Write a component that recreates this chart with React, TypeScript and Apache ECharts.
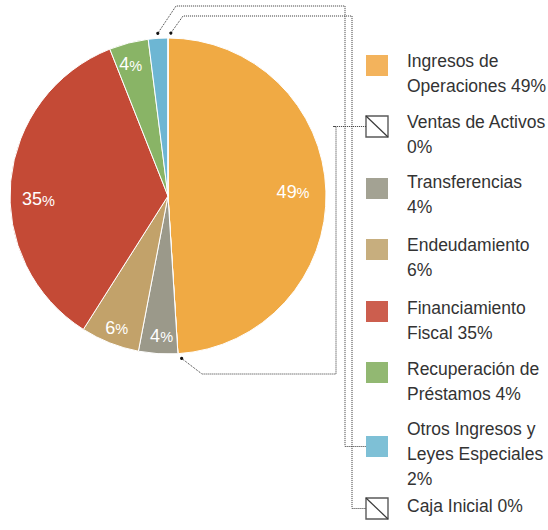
import React, { useEffect, useRef } from "react";
import * as echarts from "echarts";

// ---- data ----
const categories = [
  "Ingresos de Operaciones",
  "Ventas de Activos",
  "Transferencias",
  "Endeudamiento",
  "Financiamiento Fiscal",
  "Recuperación de Préstamos",
  "Otros Ingresos y Leyes Especiales",
  "Caja Inicial",
];
const values = [49, 0, 4, 6, 35, 4, 2, 0];
const legendLines = [
  ["Ingresos de", "Operaciones {v}%"],
  ["Ventas de Activos", "{v}%"],
  ["Transferencias", "{v}%"],
  ["Endeudamiento", "{v}%"],
  ["Financiamiento", "Fiscal {v}%"],
  ["Recuperación de", "Préstamos {v}%"],
  ["Otros Ingresos y", "Leyes Especiales", "{v}%"],
  ["Caja Inicial {v}%"],
];

// ---- styles / layout ----
const sliceColors = ["#F0AA44", "#FFFFFF", "#9B998A", "#C2A26A", "#C44A36", "#89B466", "#6DB6D3", "#FFFFFF"];
const legendColors = ["#F3B35C", "#FFFFFF", "#A3A293", "#C7AE7E", "#CC5E4E", "#92B872", "#7EC0D6", "#FFFFFF"];
const legendIconTop = [55, 116, 178, 239, 301, 362, 436, 498];
const legendCapTop = [54, 115, 175, 238, 301, 362, 422, 499];
const labelNudge = [[-9, 0], [0, 0], [2, 6], [-2, 7], [4, 16], [-4, -2], [0, 0], [0, 0]];

const CX = 168;
const CY = 196;
const R = 158;
const ICON_X = 366;
const ICON_W = 22;
const ICON_H = 21;
const TEXT_X = 407;
const LINE_H = 25;
const FONT = "Liberation Sans, Arial, sans-serif";

function polar(angleDeg: number, r: number): [number, number] {
  const a = (angleDeg * Math.PI) / 180;
  return [CX + r * Math.sin(a), CY - r * Math.cos(a)];
}

export default function App() {
  const ref = useRef<HTMLDivElement>(null);

  useEffect(() => {
    if (!ref.current) return;
    const chart = echarts.init(ref.current, null, { renderer: "svg" });

    const total = values.reduce((a, b) => a + b, 0);
    const starts: number[] = [];
    let acc = 0;
    values.forEach((v) => {
      starts.push((acc / total) * 360);
      acc += v;
    });
    const mid = (i: number) => starts[i] + ((values[i] / total) * 360) / 2;

    const iconCenter = (i: number) => legendIconTop[i] + ICON_H / 2;

    const graphics: any[] = [];

    // legend
    categories.forEach((_, i) => {
      const y = legendIconTop[i];
      if (values[i] === 0) {
        graphics.push({
          type: "rect",
          shape: { x: ICON_X, y, width: ICON_W, height: ICON_H },
          style: { fill: "#fff", stroke: "#5a5a5a", lineWidth: 1.4 },
        });
        graphics.push({
          type: "line",
          shape: { x1: ICON_X, y1: y, x2: ICON_X + ICON_W, y2: y + ICON_H },
          style: { stroke: "#3a3a3a", lineWidth: 1.2 },
        });
      } else {
        graphics.push({
          type: "rect",
          shape: { x: ICON_X, y, width: ICON_W, height: ICON_H },
          style: { fill: legendColors[i] },
        });
      }
      const text = legendLines[i].map((l) => l.replace("{v}", String(values[i]))).join("\n");
      graphics.push({
        type: "text",
        x: TEXT_X,
        y: legendCapTop[i] + 6.5 - LINE_H / 2,
        style: {
          text,
          fontSize: 17.5,
          fontFamily: FONT,
          fill: "#333",
          lineHeight: LINE_H,
          align: "left",
          verticalAlign: "top",
        },
      });
    });

    // connectors
    const dotStyle = { fill: "#111" };
    const lineStyle = { stroke: "#333", lineWidth: 1, lineDash: [1, 1], fill: null };
    const iVentas = 1;
    const iOtros = 6;
    const iCaja = 7;

    const pOtros = polar(mid(iOtros), R + 5);
    const pCaja = polar(starts[iCaja] + 1, R + 5);
    const pVentas = polar(starts[iVentas] - 1.2, R + 5);

    const conns = [
      [pOtros, [176, 6], [345, 6], [345, iconCenter(iOtros)], [ICON_X, iconCenter(iOtros)]],
      [pCaja, [183, 16], [352, 16], [352, iconCenter(iCaja)], [ICON_X, iconCenter(iCaja)]],
      [pVentas, [202, 374], [336, 374], [336, iconCenter(iVentas)], [333, iconCenter(iVentas)], [ICON_X, iconCenter(iVentas)]],
    ];
    conns.forEach((pts) => {
      graphics.push({ type: "polyline", shape: { points: pts }, style: lineStyle });
      graphics.push({ type: "circle", shape: { cx: pts[0][0], cy: pts[0][1], r: 1.6 }, style: dotStyle });
    });

    const data = categories.map((name, i) => ({
      name,
      value: values[i],
      itemStyle: { color: sliceColors[i] },
    }));

    chart.setOption({
      animation: false,
      series: [
        {
          type: "pie",
          center: [CX, CY],
          radius: [0, R],
          startAngle: 90,
          clockwise: true,
          silent: true,
          avoidLabelOverlap: false,
          label: { show: false },
          labelLine: { show: false },
          itemStyle: { borderColor: "#fff", borderWidth: 1 },
          emphasis: { disabled: true },
          data,
        },
        {
          type: "pie",
          center: [CX, CY],
          radius: [R * 0.66, R],
          startAngle: 90,
          clockwise: true,
          silent: true,
          avoidLabelOverlap: false,
          itemStyle: { color: "rgba(0,0,0,0)", borderWidth: 0 },
          emphasis: { disabled: true },
          labelLine: { show: false },
          label: {
            show: true,
            position: "inside",
            color: "#fff",
            fontFamily: FONT,
            formatter: (p: any) => (p.value >= 3 ? `{n|${p.value}}{p|%}` : ""),
            rich: {
              n: { fontSize: 18, color: "#fff", fontFamily: FONT },
              p: { fontSize: 14.5, color: "#fff", fontFamily: FONT, padding: [3, 0, 0, 0] },
            },
          },
          labelLayout: (params: any) => {
            const n = labelNudge[params.dataIndex] || [0, 0];
            return { dx: n[0], dy: n[1] };
          },
          data: categories.map((name, i) => ({ name, value: values[i] })),
        },
      ],
      graphic: graphics,
    });

    return () => chart.dispose();
  }, []);

  return (
    <div
      ref={ref}
      style={{ position: "absolute", left: 0, top: 0, width: 548, height: 530, background: "#fff" }}
    />
  );
}
